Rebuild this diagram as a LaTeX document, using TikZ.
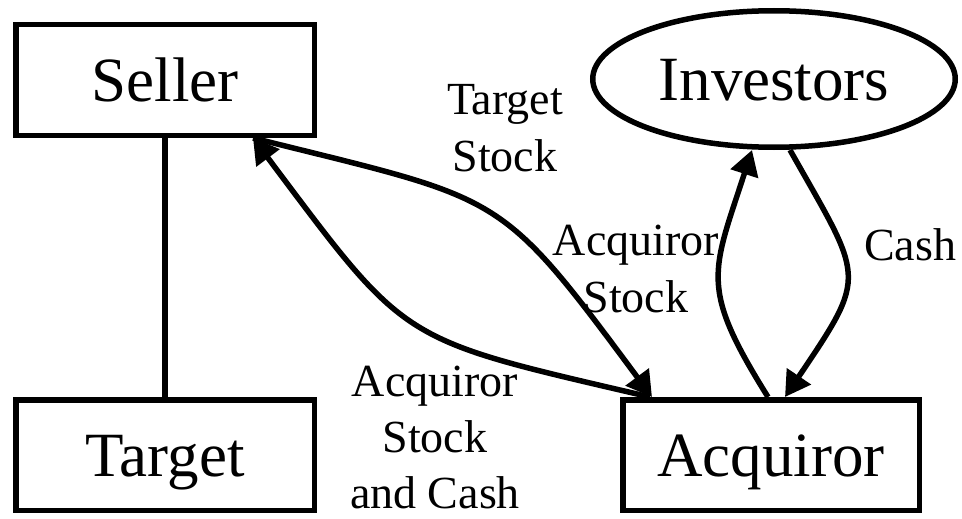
\documentclass[tikz,border=0pt]{standalone}
\usepackage{fontspec}
\setmainfont{Liberation Serif}
\usetikzlibrary{arrows.meta,shapes.geometric}
\begin{document}
\begin{tikzpicture}[x=1pt,y=-1pt,
  lw/.style={line width=5.5pt},
  boxnode/.style={draw,lw,rectangle,inner sep=0pt,minimum width=298.5pt,minimum height=110.5pt,
    font=\fontsize{63}{75}\selectfont,text height=43pt,text depth=0pt},
  ellnode/.style={draw,lw,ellipse,inner sep=0pt,minimum width=362.5pt,minimum height=136.5pt,
    font=\fontsize{63}{75}\selectfont,text height=43pt,text depth=0pt},
  lbl/.style={align=center,inner sep=0pt,font=\fontsize{46}{57}\selectfont,anchor=base},
  flow/.style={lw,-{Triangle[length=25pt,width=28pt]}},
  backflow/.style={lw,{Triangle[length=25pt,width=28pt]}-},
]
\useasboundingbox (0,0) rectangle (962,519);
\node[boxnode] (seller) at (165,80) {Seller};
\node[boxnode] (target) at (165,455) {Target};
\node[boxnode,minimum width=296.5pt] (acquiror) at (771,455) {Acquiror};
\node[ellnode] (investors) at (774,79) {Investors};

\draw[lw] (seller) -- (target);

% Target Stock: Seller -> Acquiror
\draw[flow] ([xshift=88pt]seller.south) .. controls +(252,63) and +(-155,-209) .. ([xshift=-119pt]acquiror.north);
% Acquiror Stock and Cash: Acquiror -> Seller
\draw[backflow] ([xshift=88pt]seller.south) .. controls +(156,208) and +(-253,-59) .. ([xshift=-121pt]acquiror.north);
% Acquiror Stock: Acquiror -> Investors
\draw[flow] ([xshift=-3pt]acquiror.north) .. controls +(-69,-110.5) and +(-40,123.5) .. ([xshift=-22pt]investors.south);
% Cash: Investors -> Acquiror
\draw[flow] ([xshift=16pt]investors.south) .. controls +(73.5,130.5) and +(84,-124.5) .. ([xshift=14pt]acquiror.north);

\node[lbl] (ltarget) at (505,171) {Target\\Stock};
\node[lbl] (lacqstock) at (636,312) {Acquiror\\Stock};
\node[lbl,font=\fontsize{46}{56}\selectfont] (lacqcash) at (435,508) {Acquiror\\Stock\\and Cash};
\node[lbl] (lcash) at (910,260) {Cash};
\end{tikzpicture}
\end{document}
